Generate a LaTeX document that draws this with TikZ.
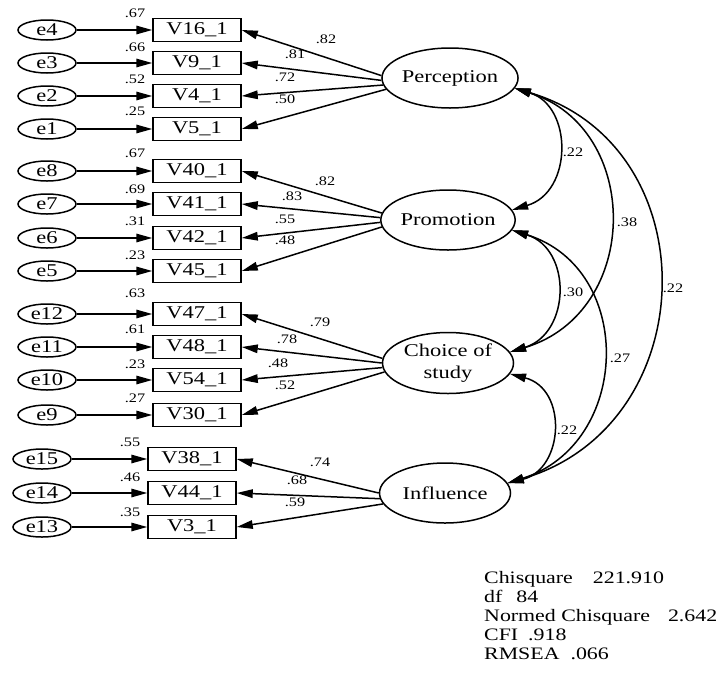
\documentclass[tikz,border=0pt]{standalone}
\usepackage{fontspec}
\setmainfont{Liberation Serif}[FakeStretch=1.25]
\usetikzlibrary{arrows.meta,shapes.geometric}
\begin{document}
\begin{tikzpicture}[x=1pt,y=-1pt,
  every node/.style={font=\fontsize{18}{22}\selectfont},
  obs/.style={draw, rectangle, minimum width=88pt, minimum height=23pt, inner sep=0pt, line width=1.5pt},
  err/.style={draw, ellipse, minimum width=58pt, minimum height=20pt, inner sep=0pt, line width=1.5pt},
  lat/.style={draw, ellipse, minimum width=131pt, minimum height=60pt, inner sep=0pt, line width=1.5pt, align=center},
  lbl/.style={font=\fontsize{13}{15}\selectfont, inner sep=0pt},
  stat/.style={font=\fontsize{17.5}{21}\selectfont, anchor=base west, inner sep=0pt},
  arr/.style={-{Triangle[length=16pt,width=8.5pt]}, line width=1.5pt},
  cov/.style={{Triangle[length=16pt,width=8.5pt]}-{Triangle[length=16pt,width=8.5pt]}, line width=1.5pt},
]
\useasboundingbox (0,0) rectangle (725,675);

% latent variables
\node[lat] (Perception) at (450,78) {Perception};
\node[lat] (Promotion) at (448,220) {Promotion};
\node[lat, minimum height=61pt] (Choice) at (448,363) {Choice of\\study};
\node[lat] (Influence) at (445,493) {Influence};

% section 1
\node[err] (e4) at (47,30) {e4};
\node[err] (e3) at (47,63) {e3};
\node[err] (e2) at (47,96) {e2};
\node[err] (e1) at (47,129) {e1};
\node[obs] (V16) at (197,30) {V16\_1};
\node[obs] (V9) at (197,63) {V9\_1};
\node[obs] (V4) at (197,96) {V4\_1};
\node[obs] (V5) at (197,129) {V5\_1};
\node[lbl] (r16) at (135,13) {.67};
\node[lbl] (r9) at (135,47) {.66};
\node[lbl] (r4) at (135,79) {.52};
\node[lbl] (r5) at (135,111) {.25};
\draw[arr] (e4) -- (V16);
\draw[arr] (e3) -- (V9);
\draw[arr] (e2) -- (V4);
\draw[arr] (e1) -- (V5);
\draw[arr] (Perception.178) -- (V16.east);
\draw[arr] (Perception.182) -- (V9.east);
\draw[arr] (Perception.186) -- (V4.east);
\draw[arr] (Perception.190) -- (V5.east);
\node[lbl] (l16) at (326,39) {.82};
\node[lbl] (l9) at (295,54) {.81};
\node[lbl] (l4) at (285,77) {.72};
\node[lbl] (l5) at (285,99) {.50};

% section 2
\node[err] (e8) at (47,171) {e8};
\node[err] (e7) at (47,204) {e7};
\node[err] (e6) at (47,238) {e6};
\node[err] (e5) at (47,271) {e5};
\node[obs] (V40) at (197,171) {V40\_1};
\node[obs] (V41) at (197,204) {V41\_1};
\node[obs] (V42) at (197,238) {V42\_1};
\node[obs] (V45) at (197,271) {V45\_1};
\node[lbl] (r40) at (135,153) {.67};
\node[lbl] (r41) at (135,189) {.69};
\node[lbl] (r42) at (135,221) {.31};
\node[lbl] (r45) at (135,255) {.23};
\draw[arr] (e8) -- (V40);
\draw[arr] (e7) -- (V41);
\draw[arr] (e6) -- (V42);
\draw[arr] (e5) -- (V45);
\draw[arr] (Promotion.174) -- (V40.east);
\draw[arr] (Promotion.178) -- (V41.east);
\draw[arr] (Promotion.182) -- (V42.east);
\draw[arr] (Promotion.186) -- (V45.east);
\node[lbl] (l40) at (325,181) {.82};
\node[lbl] (l41) at (292,196) {.83};
\node[lbl] (l42) at (285,219) {.55};
\node[lbl] (l45) at (285,240) {.48};

% section 3
\node[err] (e12) at (47,314) {e12};
\node[err] (e11) at (47,347) {e11};
\node[err] (e10) at (47,380) {e10};
\node[err] (e9) at (47,415) {e9};
\node[obs] (V47) at (197,314) {V47\_1};
\node[obs] (V48) at (197,347) {V48\_1};
\node[obs] (V54) at (197,380) {V54\_1};
\node[obs] (V30) at (197,415) {V30\_1};
\node[lbl] (r47) at (135,293) {.63};
\node[lbl] (r48) at (135,329) {.61};
\node[lbl] (r54) at (135,364) {.23};
\node[lbl] (r30) at (135,398) {.27};
\draw[arr] (e12) -- (V47);
\draw[arr] (e11) -- (V48);
\draw[arr] (e10) -- (V54);
\draw[arr] (e9) -- (V30);
\draw[arr] (Choice.176) -- (V47.east);
\draw[arr] (Choice.180) -- (V48.east);
\draw[arr] (Choice.184) -- (V54.east);
\draw[arr] (Choice.188) -- (V30.east);
\node[lbl] (l47) at (320,322) {.79};
\node[lbl] (l48) at (287,339) {.78};
\node[lbl] (l54) at (278,363) {.48};
\node[lbl] (l30) at (285,385) {.52};

% section 4
\node[err] (e15) at (42,459) {e15};
\node[err] (e14) at (42,493) {e14};
\node[err] (e13) at (42,527) {e13};
\node[obs] (V38) at (192,459) {V38\_1};
\node[obs] (V44) at (192,493) {V44\_1};
\node[obs] (V3) at (192,527) {V3\_1};
\node[lbl] (r38) at (130,442) {.55};
\node[lbl] (r44) at (130,477) {.46};
\node[lbl] (r3) at (130,512) {.35};
\draw[arr] (e15) -- (V38);
\draw[arr] (e14) -- (V44);
\draw[arr] (e13) -- (V3);
\draw[arr] (Influence.180) -- (V38.east);
\draw[arr] (Influence.185) -- (V44.east);
\draw[arr] (Influence.190) -- (V3.east);
\node[lbl] (l38) at (320,462) {.74};
\node[lbl] (l44) at (297,480) {.68};
\node[lbl] (l3) at (295,502) {.59};

% covariances
\draw[cov] (Perception.-9) .. controls (573,106) and (573,192) .. (Promotion.9);
\draw[cov] (Perception.-9) .. controls (642,128) and (642,312) .. (Choice.10);
\draw[cov] (Perception.-9) .. controls (710,146) and (705,425) .. (Influence.9);
\draw[cov] (Promotion.-9) .. controls (572,249) and (571,333) .. (Choice.10);
\draw[cov] (Promotion.-9) .. controls (636,269) and (631,444) .. (Influence.9);
\draw[cov] (Choice.-10) .. controls (568,389) and (564,469) .. (Influence.9);
\node[lbl] (c1) at (573,152) {.22};
\node[lbl] (c2) at (627,222) {.38};
\node[lbl] (c3) at (673,288) {.22};
\node[lbl] (c4) at (573,292) {.30};
\node[lbl] (c5) at (620,358) {.27};
\node[lbl] (c6) at (567,430) {.22};

% fit statistics
\node[stat] (s1) at (484,583) {Chisquare\hspace{20pt}221.910};
\node[stat] (s2) at (484,602) {df\hspace{14pt}84};
\node[stat] (s3) at (484,621) {Normed Chisquare\hspace{18pt}2.642};
\node[stat] (s4) at (484,640) {CFI\hspace{10pt}.918};
\node[stat] (s5) at (484,659) {RMSEA\hspace{11pt}.066};
\end{tikzpicture}
\end{document}
